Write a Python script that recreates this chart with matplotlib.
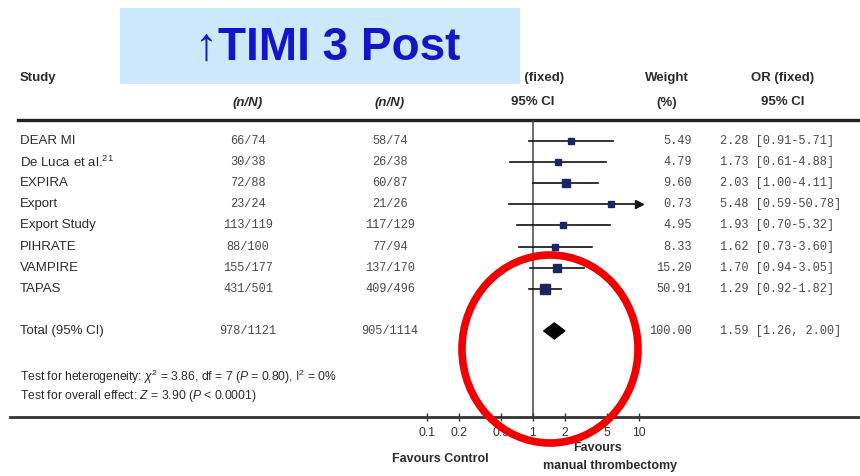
import matplotlib
matplotlib.use("Agg")

import matplotlib.pyplot as plt
import matplotlib.transforms as mtransforms
from matplotlib.patches import Ellipse, Rectangle
from matplotlib.ticker import FixedLocator, FixedFormatter, NullLocator

# ---------------------------------------------------------------
# Data
# ---------------------------------------------------------------
studies = [
    "DEAR MI",
    "De Luca et al.$^{21}$",
    "EXPIRA",
    "Export",
    "Export Study",
    "PIHRATE",
    "VAMPIRE",
    "TAPAS",
]

treat_events = [66, 30, 72, 23, 113, 88, 155, 431]
treat_total = [74, 38, 88, 24, 119, 100, 177, 501]
ctrl_events = [58, 26, 60, 21, 117, 77, 137, 409]
ctrl_total = [74, 38, 87, 26, 129, 94, 170, 496]

weights = [5.49, 4.79, 9.60, 0.73, 4.95, 8.33, 15.20, 50.91]
odds_ratio = [2.28, 1.73, 2.03, 5.48, 1.93, 1.62, 1.70, 1.29]
ci_low = [0.91, 0.61, 1.00, 0.59, 0.70, 0.73, 0.94, 0.92]
ci_high = [5.71, 4.88, 4.11, 50.78, 5.32, 3.60, 3.05, 1.82]

total_or = 1.59
total_low = 1.26
total_high = 2.00
total_weight = 100.00

axis_ticks = [0.1, 0.2, 0.5, 1, 2, 5, 10]
axis_labels = ["0.1", "0.2", "0.5", "1", "2", "5", "10"]

heterogeneity = "Test for heterogeneity: $\\chi^2$ = 3.86, df = 7 ($P$ = 0.80), I$^2$ = 0%"
overall = "Test for overall effect: $Z$ = 3.90 ($P$ < 0.0001)"

TITLE = "\u2191TIMI 3 Post"

W, H = 860, 476
NARROW = ["Liberation Sans Narrow", "Liberation Sans", "DejaVu Sans"]
MONO = ["Liberation Mono", "DejaVu Sans Mono"]
TEXT_COLOR = "#2b2b2b"
NUM_COLOR = "#4a4a4a"
BOX_COLOR = "#1c2466"

plt.rcParams["mathtext.fontset"] = "custom"
plt.rcParams["mathtext.rm"] = "Liberation Sans"
plt.rcParams["mathtext.it"] = "Liberation Sans:italic"


def fx(px):
    return px / W


def fy(py):
    return 1 - py / H


fig = plt.figure(figsize=(8.6, 4.76), dpi=100)
fig.patch.set_facecolor("white")

# background layer for the rules
bg = fig.add_axes([0, 0, 1, 1], zorder=0)
bg.set_xlim(0, W)
bg.set_ylim(H, 0)
bg.axis("off")

bg.plot([18, 860], [120, 120], color="#222222", lw=2.4)
bg.plot([10, 860], [417, 417], color="#333333", lw=2.0)

# forest axes: OR on a log scale, one row per study
ax = fig.add_axes(
    [fx(427), fy(417), fx(639) - fx(427), fy(120) - fy(417)],
    zorder=1
)
ax.patch.set_alpha(0)
ax.set_xscale("log")
ax.set_xlim(0.1, 10)
ax.set_ylim(13.08, -1.0)
for side in ["top", "right", "left", "bottom"]:
    ax.spines[side].set_visible(False)
ax.yaxis.set_major_locator(NullLocator())
ax.xaxis.set_major_locator(FixedLocator(axis_ticks))
ax.xaxis.set_major_formatter(FixedFormatter(axis_labels))
ax.xaxis.set_minor_locator(NullLocator())
ax.tick_params(
    axis="x",
    direction="inout",
    length=6,
    width=1.0,
    pad=4,
    colors="#333333",
    labelsize=8.8,
)
for lab in ax.get_xticklabels():
    lab.set_family(NARROW)

ax.axvline(1, color="#444444", lw=1.1, zorder=1)

rows = list(range(len(studies)))
total_row = len(studies) + 1
xmax = ax.get_xlim()[1]

for i in rows:
    hi = min(ci_high[i], xmax)
    ax.plot([ci_low[i], hi], [i, i], color="#111111", lw=1.2, zorder=2)
    if ci_high[i] > xmax:
        ax.plot(xmax, i, marker=">", color="#111111", ms=6, clip_on=False, zorder=3)
    ax.plot(
        odds_ratio[i], i,
        marker="s",
        color=BOX_COLOR,
        ms=3.2 + 0.6 * weights[i] ** 0.5,
        zorder=3,
    )

ax.fill(
    [total_low, total_or, total_high, total_or],
    [total_row, total_row - 0.38, total_row, total_row + 0.38],
    color="black",
    zorder=3,
)

# text columns: x in figure pixels, y in row units
tr = mtransforms.blended_transform_factory(fig.transFigure, ax.transData)


def put(px, row, s, ha="left", family=NARROW, size=9, color=TEXT_COLOR, **kw):
    ax.text(fx(px), row, s, transform=tr, ha=ha, va="center",
            family=family, fontsize=size, color=color, clip_on=False, **kw)


for i in rows:
    put(20, i, studies[i], size=9.5)
    put(248, i, f"{treat_events[i]}/{treat_total[i]}", ha="center",
        family=MONO, size=8.6, color=NUM_COLOR)
    put(390, i, f"{ctrl_events[i]}/{ctrl_total[i]}", ha="center",
        family=MONO, size=8.6, color=NUM_COLOR)
    put(692, i, f"{weights[i]:.2f}", ha="right",
        family=MONO, size=8.6, color=NUM_COLOR)
    put(720, i, f"{odds_ratio[i]:.2f} [{ci_low[i]:.2f}-{ci_high[i]:.2f}]",
        family=MONO, size=8.6, color=NUM_COLOR)

put(20, total_row, "Total (95% CI)", size=9.5)
put(248, total_row, f"{sum(treat_events)}/{sum(treat_total)}", ha="center",
    family=MONO, size=8.6, color=NUM_COLOR)
put(390, total_row, f"{sum(ctrl_events)}/{sum(ctrl_total)}", ha="center",
    family=MONO, size=8.6, color=NUM_COLOR)
put(692, total_row, f"{total_weight:.2f}", ha="right",
    family=MONO, size=8.6, color=NUM_COLOR)
put(720, total_row, f"{total_or:.2f} [{total_low:.2f}, {total_high:.2f}]",
    family=MONO, size=8.6, color=NUM_COLOR)

# headers
fig.text(fx(20), fy(78), "Study", ha="left", va="center", family=NARROW,
         fontsize=9.5, weight="bold", color=TEXT_COLOR)
for px in [248, 390]:
    fig.text(fx(px), fy(103), "(n/N)", ha="center", va="center", family=NARROW,
             fontsize=9.5, style="italic", weight="bold", color=TEXT_COLOR)
fig.text(fx(533), fy(78), "OR (fixed)", ha="center", va="center", family=NARROW,
         fontsize=9.5, weight="bold", color=TEXT_COLOR)
fig.text(fx(533), fy(102), "95% CI", ha="center", va="center", family=NARROW,
         fontsize=9.5, weight="bold", color=TEXT_COLOR)
fig.text(fx(667), fy(78), "Weight", ha="center", va="center", family=NARROW,
         fontsize=9.5, weight="bold", color=TEXT_COLOR)
fig.text(fx(667), fy(103), "(%)", ha="center", va="center", family=NARROW,
         fontsize=9.5, weight="bold", color=TEXT_COLOR)
fig.text(fx(783), fy(78), "OR (fixed)", ha="center", va="center", family=NARROW,
         fontsize=9.5, weight="bold", color=TEXT_COLOR)
fig.text(fx(783), fy(102), "95% CI", ha="center", va="center", family=NARROW,
         fontsize=9.5, weight="bold", color=TEXT_COLOR)

# test statistics
fig.text(fx(20), fy(377), heterogeneity, ha="left", va="center",
         family=NARROW, fontsize=8.7, color=TEXT_COLOR)
fig.text(fx(20), fy(396), overall, ha="left", va="center",
         family=NARROW, fontsize=8.7, color=TEXT_COLOR)

# favours labels
fig.text(fx(440), fy(459), "Favours Control", ha="center", va="center",
         family=NARROW, fontsize=9, weight="bold", color=TEXT_COLOR)
fig.text(fx(598), fy(448), "Favours", ha="center", va="center",
         family=NARROW, fontsize=9, weight="bold", color=TEXT_COLOR)
fig.text(fx(610), fy(466), "manual thrombectomy", ha="center", va="center",
         family=NARROW, fontsize=9, weight="bold", color=TEXT_COLOR)

# overlay: title box and red ellipse
top = fig.add_axes([0, 0, 1, 1], zorder=5)
top.set_xlim(0, W)
top.set_ylim(H, 0)
top.axis("off")
top.patch.set_alpha(0)

top.add_patch(Rectangle((120, 8), 400, 76, facecolor="#cce8fa", edgecolor="none"))
top.text(328, 48, TITLE, ha="center", va="center",
         family=["Liberation Sans", "DejaVu Sans"],
         fontsize=33, weight="bold", color="#1414c8")

top.add_patch(Ellipse((550, 349), 176, 188, facecolor="none",
                      edgecolor="#f00000", lw=5.5))

fig.savefig("out.png", dpi=100)
